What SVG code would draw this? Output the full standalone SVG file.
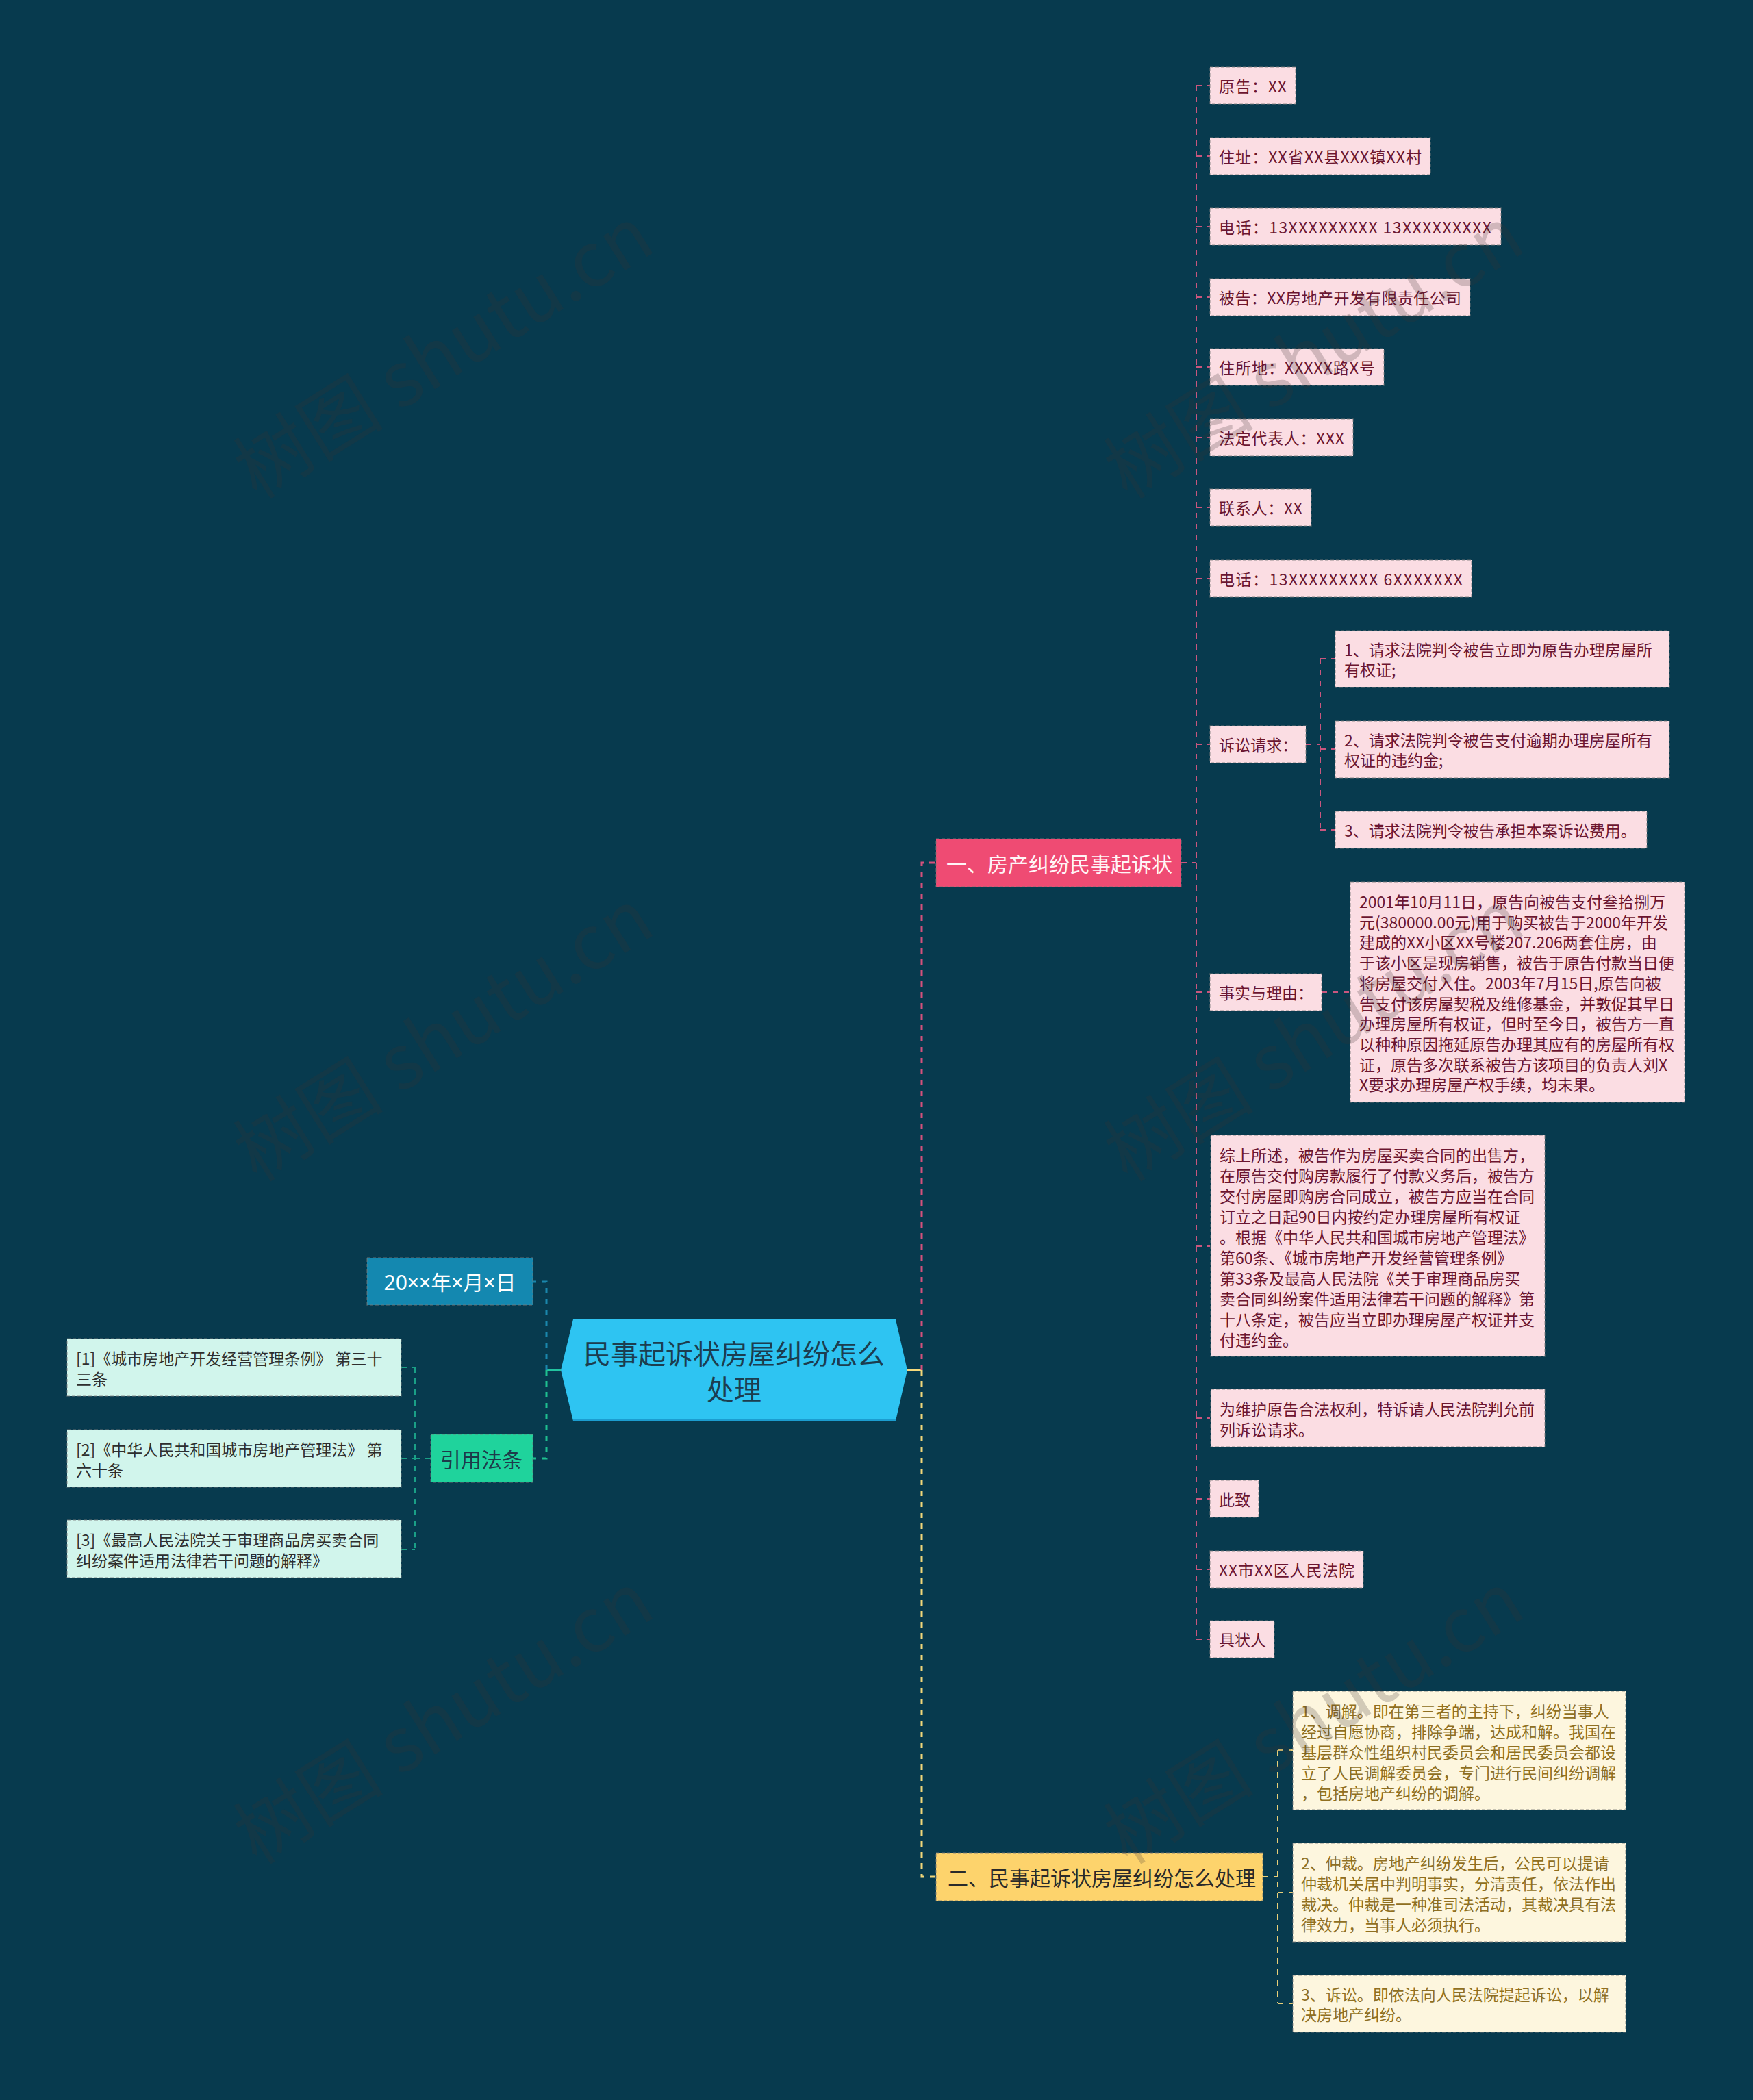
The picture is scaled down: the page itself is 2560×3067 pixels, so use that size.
<svg xmlns="http://www.w3.org/2000/svg" width="2560" height="3067" viewBox="0 0 2560 3067">
<style>
text{font-family:"Noto Sans CJK SC","Noto Sans",sans-serif;dominant-baseline:central}
.nb{stroke:#7a7a7a;stroke-opacity:.55;stroke-width:1.5;stroke-dasharray:5 3}
.pk rect{fill:#fbdde3}
.pk text{font-size:23px;fill:#6b1530}
.cr rect{fill:#fdf6de}
.cr text{font-size:23px;fill:#8f6f21}
.mt rect{fill:#d1f5ec}
.mt text{font-size:23px;fill:#2e2e2e}
.br text{font-size:30px}
.c{fill:none;stroke-dasharray:8 8}
.wm{font-size:110px;fill:#3c3232;opacity:.22}
</style>
<rect width="2560" height="3067" fill="#073a4e"/>

<g id="connectors">
  <line x1="819" y1="2001" x2="798" y2="2001" stroke="#22c4a0" stroke-width="4"/>
  <path class="c" d="M798 2001 V1872 H778" stroke="#1a87ad" stroke-width="3"/>
  <path class="c" d="M798 2001 V2130 H778" stroke="#1fbf8f" stroke-width="3"/>
  <path class="c" d="M629 2130 H606 M606 1997 V2263 M586 1997 H606 M586 2130 H606 M586 2263 H606" stroke="#1a9f86" stroke-width="2"/>
  <line x1="1325" y1="2001" x2="1346" y2="2001" stroke="#f5d97c" stroke-width="4"/>
  <path class="c" d="M1346 2001 V1260 H1367" stroke="#d5517c" stroke-width="3"/>
  <path class="c" d="M1346 2001 V2741 H1367" stroke="#f2d77a" stroke-width="3"/>
  <path class="c" d="M1725 1260 H1747 M1747 125 V2394 M1747 125 H1767 M1747 228 H1767 M1747 331 H1767 M1747 434 H1767 M1747 536 H1767 M1747 639 H1767 M1747 741 H1767 M1747 845 H1767 M1747 1087 H1767 M1747 1449 H1767 M1747 1820 H1767 M1747 2071 H1767 M1747 2189 H1767 M1747 2292 H1767 M1747 2394 H1767" stroke="#c9567e" stroke-width="2"/>
  <path class="c" d="M1907 1087 H1928 M1928 962 V1212 M1928 962 H1950 M1928 1094 H1950 M1928 1212 H1950" stroke="#c9567e" stroke-width="2"/>
  <path class="c" d="M1930 1449 H1972" stroke="#c9567e" stroke-width="2"/>
  <path class="c" d="M1844 2741 H1866 M1866 2556 V2926 M1866 2556 H1888 M1866 2764 H1888 M1866 2926 H1888" stroke="#e8cf78" stroke-width="2"/>
</g>

<g id="root">
  <polygon points="819,2001 837,1927 1308,1927 1325,2001 1308,2075 837,2075" fill="#2ec4f2"/>
  <line x1="837" y1="2074" x2="1308" y2="2074" stroke="#1b9dd0" stroke-width="3"/>
  <text x="1072" y="1975" font-size="40" fill="#1c3d4f" text-anchor="middle">民事起诉状房屋纠纷怎么</text>
  <text x="1072" y="2027" font-size="40" fill="#1c3d4f" text-anchor="middle">处理</text>
</g>

<g id="date" class="br">
  <rect x="536" y="1837" width="242" height="69" fill="#1488b0" class="nb"/>
  <text x="657" y="1872" fill="#ffffff" text-anchor="middle" style="font-family:'Noto Sans','Noto Sans CJK SC',sans-serif">20××年×月×日</text>
</g>
<g id="laws" class="br">
  <rect x="629" y="2095" width="149" height="70" fill="#1fd39c" class="nb"/>
  <text x="703" y="2130" fill="#1d3b4a" text-anchor="middle">引用法条</text>
</g>
<g id="law1" class="mt">
  <rect x="98" y="1955" width="488" height="84" class="nb"/>
  <text x="111"><tspan x="111" y="1983">[1]《城市房地产开发经营管理条例》 第三十</tspan><tspan x="111" y="2013">三条</tspan></text>
</g>
<g id="law2" class="mt">
  <rect x="98" y="2088" width="488" height="84" class="nb"/>
  <text x="111"><tspan x="111" y="2116">[2]《中华人民共和国城市房地产管理法》 第</tspan><tspan x="111" y="2146">六十条</tspan></text>
</g>
<g id="law3" class="mt">
  <rect x="98" y="2220" width="488" height="84" class="nb"/>
  <text x="111"><tspan x="111" y="2248">[3]《最高人民法院关于审理商品房买卖合同</tspan><tspan x="111" y="2278">纠纷案件适用法律若干问题的解释》</tspan></text>
</g>

<g id="b1" class="br">
  <rect x="1367" y="1225" width="358" height="70" fill="#ef4b73" class="nb"/>
  <text x="1382" y="1260" fill="#fff5f7">一、房产纠纷民事起诉状</text>
</g>
<g id="b2" class="br">
  <rect x="1367" y="2706" width="477" height="70" fill="#fdd36c" class="nb"/>
  <text x="1384" y="2741" fill="#2a2a2a">二、民事起诉状房屋纠纷怎么处理</text>
</g>

<g id="p1" class="pk"><rect x="1767" y="98" width="125" height="54" class="nb"/><text x="1780" y="125" textLength="99" lengthAdjust="spacing">原告：XX</text></g>
<g id="p2" class="pk"><rect x="1767" y="201" width="322" height="54" class="nb"/><text x="1780" y="228" textLength="296" lengthAdjust="spacing">住址：XX省XX县XXX镇XX村</text></g>
<g id="p3" class="pk"><rect x="1767" y="304" width="425" height="54" class="nb"/><text x="1780" y="331" textLength="398" lengthAdjust="spacing">电话：13XXXXXXXXX 13XXXXXXXXX</text></g>
<g id="p4" class="pk"><rect x="1767" y="407" width="380" height="54" class="nb"/><text x="1780" y="434" textLength="354" lengthAdjust="spacing">被告：XX房地产开发有限责任公司</text></g>
<g id="p5" class="pk"><rect x="1767" y="509" width="254" height="54" class="nb"/><text x="1780" y="536" textLength="228" lengthAdjust="spacing">住所地：XXXXX路X号</text></g>
<g id="p6" class="pk"><rect x="1767" y="612" width="209" height="54" class="nb"/><text x="1780" y="639" textLength="183" lengthAdjust="spacing">法定代表人：XXX</text></g>
<g id="p7" class="pk"><rect x="1767" y="714" width="148" height="54" class="nb"/><text x="1780" y="741" textLength="122" lengthAdjust="spacing">联系人：XX</text></g>
<g id="p8" class="pk"><rect x="1767" y="818" width="382" height="54" class="nb"/><text x="1780" y="845" textLength="356" lengthAdjust="spacing">电话：13XXXXXXXXX 6XXXXXXX</text></g>
<g id="p9" class="pk"><rect x="1767" y="1060" width="140" height="54" class="nb"/><text x="1780" y="1087">诉讼请求：</text></g>
<g id="p9a" class="pk"><rect x="1950" y="921" width="488" height="83" class="nb"/><text><tspan x="1963" y="948">1、请求法院判令被告立即为原告办理房屋所</tspan><tspan x="1963" y="977">有权证;</tspan></text></g>
<g id="p9b" class="pk"><rect x="1950" y="1053" width="488" height="83" class="nb"/><text><tspan x="1963" y="1080">2、请求法院判令被告支付逾期办理房屋所有</tspan><tspan x="1963" y="1109">权证的违约金;</tspan></text></g>
<g id="p9c" class="pk"><rect x="1950" y="1185" width="455" height="54" class="nb"/><text x="1963" y="1212">3、请求法院判令被告承担本案诉讼费用。</text></g>
<g id="p10" class="pk"><rect x="1767" y="1422" width="163" height="54" class="nb"/><text x="1780" y="1449">事实与理由：</text></g>
<g id="p10a" class="pk"><rect x="1972" y="1288" width="488" height="322" class="nb"/><text>
<tspan x="1985" y="1316">2001年10月11日，原告向被告支付叁拾捌万</tspan>
<tspan x="1985" y="1345.7">元(380000.00元)用于购买被告于2000年开发</tspan>
<tspan x="1985" y="1375.4">建成的XX小区XX号楼207.206两套住房，由</tspan>
<tspan x="1985" y="1405.1">于该小区是现房销售，被告于原告付款当日便</tspan>
<tspan x="1985" y="1434.8">将房屋交付入住。2003年7月15日,原告向被</tspan>
<tspan x="1985" y="1464.5">告支付该房屋契税及维修基金，并敦促其早日</tspan>
<tspan x="1985" y="1494.2">办理房屋所有权证，但时至今日，被告方一直</tspan>
<tspan x="1985" y="1523.9">以种种原因拖延原告办理其应有的房屋所有权</tspan>
<tspan x="1985" y="1553.6">证，原告多次联系被告方该项目的负责人刘X</tspan>
<tspan x="1985" y="1583.3">X要求办理房屋产权手续，均未果。</tspan></text></g>
<g id="p11" class="pk"><rect x="1768" y="1658" width="488" height="323" class="nb"/><text>
<tspan x="1781" y="1686">综上所述，被告作为房屋买卖合同的出售方，</tspan>
<tspan x="1781" y="1716">在原告交付购房款履行了付款义务后，被告方</tspan>
<tspan x="1781" y="1746">交付房屋即购房合同成立，被告方应当在合同</tspan>
<tspan x="1781" y="1776">订立之日起90日内按约定办理房屋所有权证</tspan>
<tspan x="1781" y="1806">。根据《中华人民共和国城市房地产管理法》</tspan>
<tspan x="1781" y="1836">第60条、《城市房地产开发经营管理条例》</tspan>
<tspan x="1781" y="1866">第33条及最高人民法院《关于审理商品房买</tspan>
<tspan x="1781" y="1896">卖合同纠纷案件适用法律若干问题的解释》第</tspan>
<tspan x="1781" y="1926">十八条定，被告应当立即办理房屋产权证并支</tspan>
<tspan x="1781" y="1956">付违约金。</tspan></text></g>
<g id="p12" class="pk"><rect x="1768" y="2029" width="488" height="84" class="nb"/><text><tspan x="1781" y="2057">为维护原告合法权利，特诉请人民法院判允前</tspan><tspan x="1781" y="2087">列诉讼请求。</tspan></text></g>
<g id="p13" class="pk"><rect x="1767" y="2162" width="71" height="54" class="nb"/><text x="1780" y="2189">此致</text></g>
<g id="p14" class="pk"><rect x="1767" y="2265" width="224" height="54" class="nb"/><text x="1780" y="2292" textLength="198" lengthAdjust="spacing">XX市XX区人民法院</text></g>
<g id="p15" class="pk"><rect x="1767" y="2367" width="94" height="54" class="nb"/><text x="1780" y="2394">具状人</text></g>

<g id="y1" class="cr"><rect x="1888" y="2470" width="486" height="173" class="nb"/><text>
<tspan x="1900" y="2498">1、调解。即在第三者的主持下，纠纷当事人</tspan>
<tspan x="1900" y="2528">经过自愿协商，排除争端，达成和解。我国在</tspan>
<tspan x="1900" y="2558">基层群众性组织村民委员会和居民委员会都设</tspan>
<tspan x="1900" y="2588">立了人民调解委员会，专门进行民间纠纷调解</tspan>
<tspan x="1900" y="2618">，包括房地产纠纷的调解。</tspan></text></g>
<g id="y2" class="cr"><rect x="1888" y="2692" width="486" height="144" class="nb"/><text>
<tspan x="1900" y="2720">2、仲裁。房地产纠纷发生后，公民可以提请</tspan>
<tspan x="1900" y="2750">仲裁机关居中判明事实，分清责任，依法作出</tspan>
<tspan x="1900" y="2780">裁决。仲裁是一种准司法活动，其裁决具有法</tspan>
<tspan x="1900" y="2810">律效力，当事人必须执行。</tspan></text></g>
<g id="y3" class="cr"><rect x="1888" y="2885" width="486" height="83" class="nb"/><text><tspan x="1900" y="2912">3、诉讼。即依法向人民法院提起诉讼，以解</tspan><tspan x="1900" y="2941">决房地产纠纷。</tspan></text></g>

<g id="watermark">
  <text class="wm" x="350" y="690" transform="rotate(-32 350 690)">树图 shutu.cn</text>
  <text class="wm" x="350" y="1687" transform="rotate(-32 350 1687)">树图 shutu.cn</text>
  <text class="wm" x="350" y="2684" transform="rotate(-32 350 2684)">树图 shutu.cn</text>
  <text class="wm" x="1621" y="690" transform="rotate(-32 1621 690)">树图 shutu.cn</text>
  <text class="wm" x="1621" y="1687" transform="rotate(-32 1621 1687)">树图 shutu.cn</text>
  <text class="wm" x="1621" y="2684" transform="rotate(-32 1621 2684)">树图 shutu.cn</text>
</g>
</svg>
